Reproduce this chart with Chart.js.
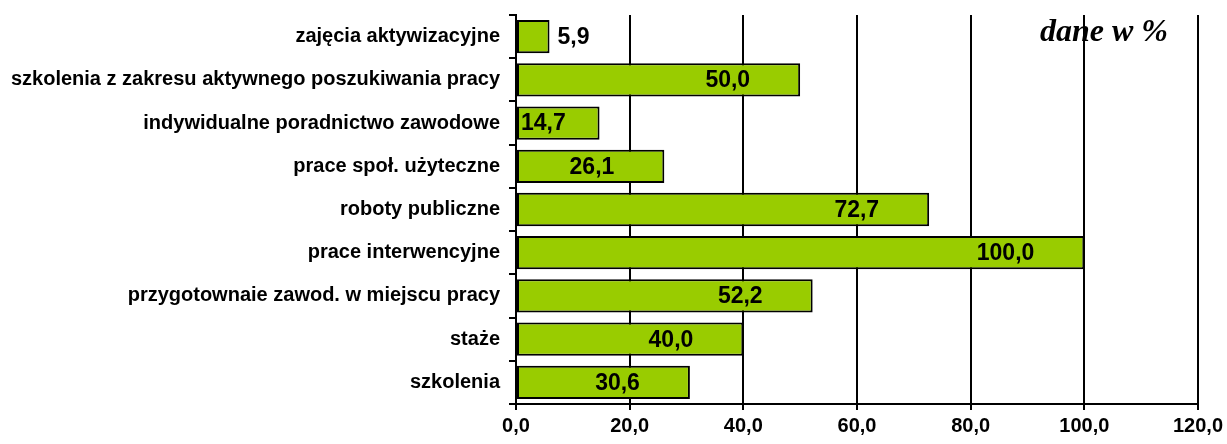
<!DOCTYPE html>
<html>
<head>
<meta charset="utf-8">
<script src="https://cdn.jsdelivr.net/npm/chart.js@4/dist/chart.umd.min.js"></script>
<style>
  html, body { margin: 0; padding: 0; background: #fff; }
  #wrap { width: 1227px; height: 444px; }
</style>
</head>
<body>
<div id="wrap"><canvas id="myChart" width="1227" height="444"></canvas></div>
<script>
// categories (top to bottom) and values in %
const categories = [
  'zajęcia aktywizacyjne',
  'szkolenia z zakresu aktywnego poszukiwania pracy',
  'indywidualne poradnictwo zawodowe',
  'prace społ. użyteczne',
  'roboty publiczne',
  'prace interwencyjne',
  'przygotownaie zawod. w miejscu pracy',
  'staże',
  'szkolenia'
]
const values = [5.9, 50.0, 14.7, 26.1, 72.7, 100.0, 52.2, 40.0, 30.6]
const xTicks = [0, 20, 40, 60, 80, 100, 120]
const unitNote = 'dane w %'

const fmt = v => v.toFixed(1).replace('.', ',')

// draws the value labels and the "dane w %" note
const labelPlugin = {
  id: 'labels',
  afterDatasetsDraw (chart) {
    const ctx = chart.ctx
    const meta = chart.getDatasetMeta(0)
    ctx.save()
    ctx.font = 'bold 23px "Liberation Sans", Arial, sans-serif'
    ctx.fillStyle = '#000'
    ctx.textBaseline = 'middle'
    meta.data.forEach((bar, i) => {
      const text = fmt(values[i])
      const w = ctx.measureText(text).width
      const start = bar.base
      const end = bar.x
      if (end - start < w + 12) {
        ctx.textAlign = 'left'
        ctx.fillText(text, end + 8, bar.y + 1)
      } else {
        ctx.textAlign = 'right'
        ctx.fillText(text, Math.max(start + 4 + w, end - 50), bar.y + 1)
      }
    })
    ctx.font = 'italic bold 32px "Liberation Serif", "Times New Roman", serif'
    ctx.textAlign = 'right'
    ctx.textBaseline = 'alphabetic'
    ctx.fillText(unitNote, 1168, 41)
    ctx.restore()
  }
}

const configuration = {
  type: 'bar',
  data: {
    labels: categories,
    datasets: [{
      data: values,
      backgroundColor: '#99CC00',
      borderColor: '#000',
      borderWidth: 2,
      borderSkipped: false,
      barPercentage: 0.77,
      categoryPercentage: 1
    }]
  },
  options: {
    indexAxis: 'y',
    responsive: false,
    animation: false,
    layout: { padding: { top: 15, right: 29, bottom: 0, left: 0 } },
    plugins: {
      legend: { display: false },
      tooltip: { enabled: false }
    },
    scales: {
      x: {
        min: xTicks[0],
        max: xTicks[xTicks.length - 1],
        afterBuildTicks: scale => { scale.ticks = xTicks.map(v => ({ value: v })) },
        afterFit: scale => { scale.height = 40 },
        grid: { color: '#000', lineWidth: 2, tickLength: 6 },
        border: { color: '#000', width: 2 },
        ticks: {
          color: '#000',
          padding: 4,
          maxRotation: 0,
          font: { family: '"Liberation Sans", Arial, sans-serif', size: 20, weight: 'bold' },
          callback: v => fmt(v)
        }
      },
      y: {
        afterFit: scale => {
          scale.width = 516
          scale.paddingTop = 0
          scale.paddingBottom = 0
        },
        grid: { drawOnChartArea: false, color: '#000', lineWidth: 2, tickLength: 7, offset: true },
        border: { color: '#000', width: 2 },
        ticks: {
          color: '#000',
          padding: 9,
          autoSkip: false,
          font: { family: '"Liberation Sans", Arial, sans-serif', size: 20, weight: 'bold' }
        }
      }
    }
  },
  plugins: [labelPlugin]
}

const myChart = new Chart(document.getElementById('myChart').getContext('2d'), configuration)
</script>
</body>
</html>
